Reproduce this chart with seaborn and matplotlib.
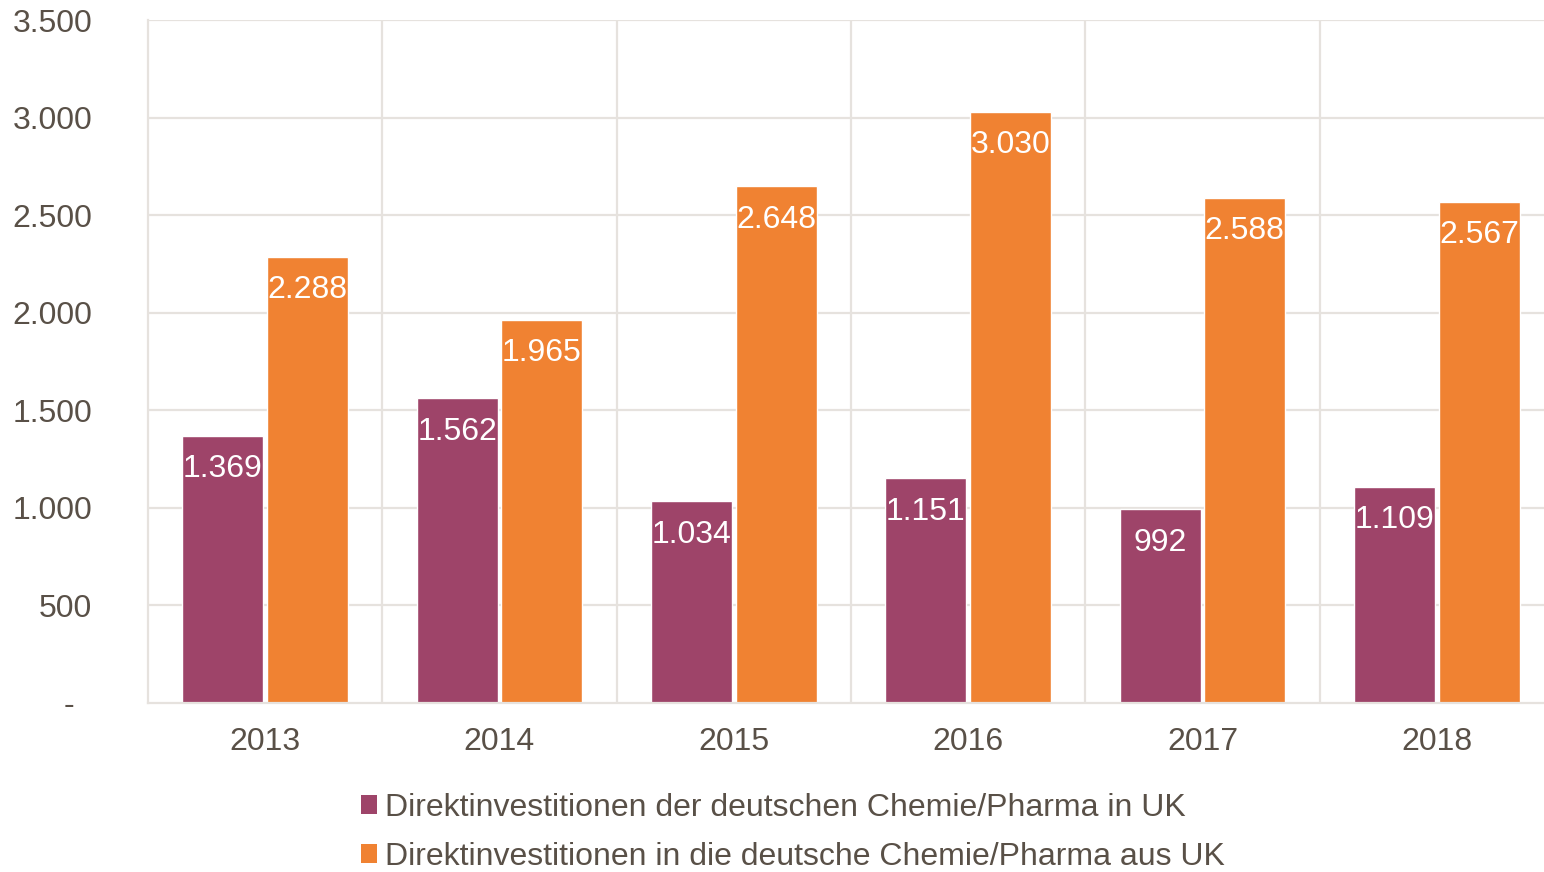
import pandas as pd
import matplotlib.pyplot as plt
import seaborn as sns
from matplotlib.patches import Patch

years = ['2013', '2014', '2015', '2016', '2017', '2018']
series_names = ['Direktinvestitionen der deutschen Chemie/Pharma in UK',
                'Direktinvestitionen in die deutsche Chemie/Pharma aus UK']
outward = [1369, 1562, 1034, 1151, 992, 1109]
inward = [2288, 1965, 2648, 3030, 2588, 2567]
yticks = [0, 500, 1000, 1500, 2000, 2500, 3000, 3500]
ytick_labels = ['-  ', '500', '1.000', '1.500', '2.000', '2.500', '3.000', '3.500']

colors = ['#9E4469', '#F08232']
text_color = '#595047'
grid_color = '#E6E2DE'

df = pd.DataFrame({
    'Jahr': years * 2,
    'Wert': outward + inward,
    'Serie': [series_names[0]] * len(years) + [series_names[1]] * len(years),
})

sns.set_style('white')
plt.rcParams['font.family'] = ['Liberation Sans', 'DejaVu Sans']

fig = plt.figure(figsize=(15.44, 8.72), dpi=100)
ax = fig.add_axes([148 / 1544, 1 - 703 / 872, 1406 / 1544, 683 / 872])

sns.barplot(data=df, x='Jahr', y='Wert', hue='Serie', palette=colors,
            width=0.72, gap=0.04, saturation=1, legend=False, ax=ax)

ax.set_xlim(-0.5, 5.5)
ax.set_ylim(0, 3500)
ax.set_yticks(yticks)
ax.set_yticklabels(ytick_labels)
ax.set_xlabel('')
ax.set_ylabel('')

# horizontal grid + vertical separators between categories
for y in yticks[1:]:
    ax.axhline(y, color=grid_color, lw=1.6, zorder=0)
for x in [0.5, 1.5, 2.5, 3.5, 4.5]:
    ax.axvline(x, color=grid_color, lw=1.6, zorder=0)

for side in ['top', 'right']:
    ax.spines[side].set_visible(False)
for side in ['left', 'bottom']:
    ax.spines[side].set_color(grid_color)
    ax.spines[side].set_linewidth(1.6)

ax.tick_params(axis='y', length=0, pad=40, labelsize=23, labelcolor=text_color)
ax.tick_params(axis='x', length=0, pad=17, labelsize=23, labelcolor=text_color)

# value labels inside the top of each bar
for p in ax.patches:
    h = p.get_height()
    if h <= 0:
        continue
    label = f'{int(round(h)):,}'.replace(',', '.')
    ax.annotate(label, (p.get_x() + p.get_width() / 2, h),
                xytext=(0, -24), textcoords='offset points',
                ha='center', va='center', color='white', fontsize=23)

handles = [Patch(facecolor=c, edgecolor='none') for c in colors]
fig.legend(handles, series_names, loc='upper left',
           bbox_to_anchor=(348 / 1544, 1 - 780 / 872),
           frameon=False, fontsize=23, labelcolor=text_color,
           handlelength=0.5, handleheight=0.5, handletextpad=0.25,
           labelspacing=0.6, borderaxespad=0)

fig.savefig('out.png', dpi=100)
